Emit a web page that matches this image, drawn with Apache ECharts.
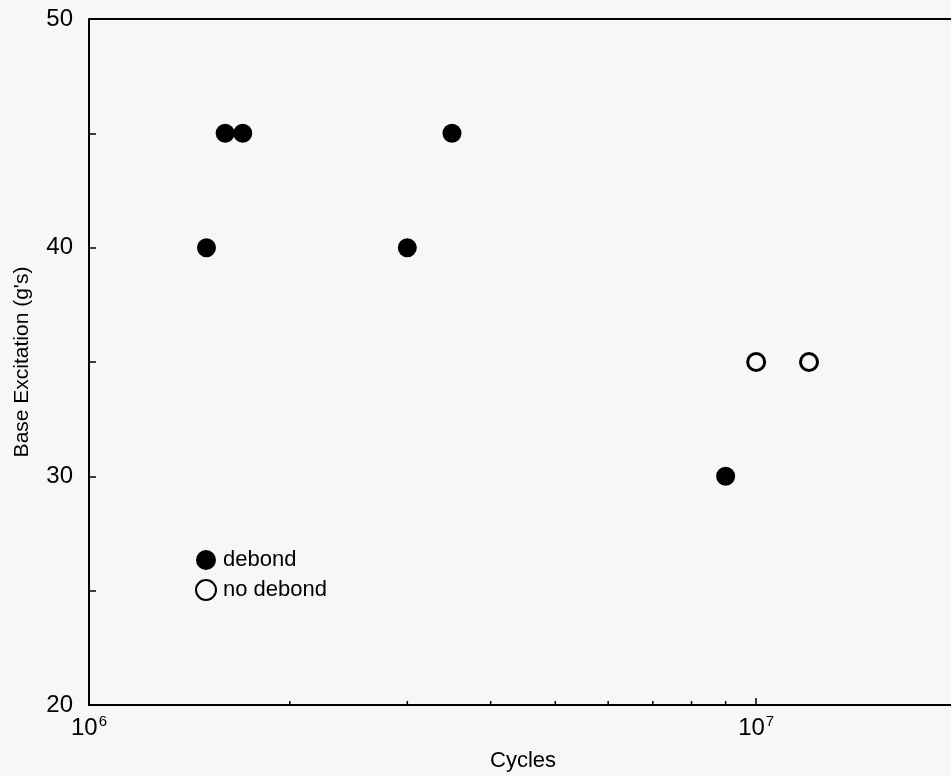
<!DOCTYPE html>
<html>
<head>
<meta charset="utf-8">
<script src="https://cdn.jsdelivr.net/npm/echarts@6/dist/echarts.min.js"></script>
<style>
html,body{margin:0;padding:0;background:#f7f7f7;}
#c{width:951px;height:776px;}
</style>
</head>
<body>
<div id="c"></div>
<script>
// Data
const debondCycles = [1.5e6, 1.6e6, 1.7e6, 3.0e6, 3.5e6, 9.0e6];
const debondG      = [40,    45,    45,    40,    45,    30];
const noDebondCycles = [1.0e7, 1.2e7];
const noDebondG      = [35,    35];
const xMinorTicks = [2e6, 3e6, 4e6, 5e6, 6e6, 7e6, 8e6, 9e6];
const yLabels = [20, 30, 40, 50];

const chart = echarts.init(document.getElementById('c'));
const font = 'Liberation Sans, Arial, Helvetica, sans-serif';

function zip(a, b) { return a.map((v, i) => [v, b[i]]); }

const option = {
  backgroundColor: '#f7f7f7',
  animation: false,
  grid: { left: 89, top: 19, width: 868, height: 686, show: false, outerBoundsMode: 'none', containLabel: false },
  xAxis: {
    type: 'log',
    logBase: 10,
    min: 1e6,
    max: 2e7,
    name: 'Cycles',
    nameLocation: 'middle',
    nameGap: 45,
    nameTextStyle: { fontFamily: font, fontSize: 22, color: '#000' },
    axisLine: { show: true, lineStyle: { color: '#000', width: 2 } },
    axisTick: { show: true, inside: true, length: 7, lineStyle: { color: '#000', width: 1.5 } },
    minorTick: { show: false },
    splitLine: { show: false },
    axisLabel: {
      margin: 9,
      formatter: function (v) {
        const e = Math.log10(v);
        if (Math.abs(e - Math.round(e)) < 1e-6 && Math.round(e) <= 7) {
          return '{b|10}{s|' + Math.round(e) + '}';
        }
        return '';
      },
      rich: {
        b: { fontFamily: font, fontSize: 24, color: '#000', verticalAlign: 'bottom', lineHeight: 26 },
        s: { fontFamily: font, fontSize: 15, color: '#000', verticalAlign: 'top', padding: [0, 0, 12, 1], lineHeight: 26 }
      }
    }
  },
  yAxis: {
    type: 'value',
    min: 20,
    max: 50,
    interval: 5,
    name: "Base Excitation (g's)",
    nameLocation: 'middle',
    nameGap: 56,
    nameTextStyle: { fontFamily: font, fontSize: 21, color: '#000' },
    axisLine: { show: true, lineStyle: { color: '#000', width: 2 } },
    axisTick: { show: true, inside: true, length: 7, lineStyle: { color: '#000', width: 1.5 } },
    splitLine: { show: false },
    axisLabel: {
      margin: 16,
      fontFamily: font,
      fontSize: 24,
      color: '#000',
      formatter: function (v) { return yLabels.indexOf(v) >= 0 ? String(v) : ''; }
    }
  },
  legend: {
    orient: 'vertical',
    left: 190,
    top: 544,
    itemWidth: 20,
    itemHeight: 20,
    itemGap: 8,
    textStyle: { fontFamily: font, fontSize: 22, color: '#000', padding: [0, 0, 0, 2] },
    data: [
      { name: 'debond', icon: 'circle' },
      { name: 'no debond', icon: 'circle' }
    ]
  },
  series: [
    {
      name: 'debond',
      type: 'scatter',
      symbol: 'circle',
      symbolSize: 19,
      itemStyle: { color: '#000', opacity: 1 },
      data: zip(debondCycles, debondG)
    },
    {
      name: 'no debond',
      type: 'scatter',
      symbol: 'circle',
      symbolSize: 17,
      itemStyle: { color: '#f7f7f7', borderColor: '#000', borderWidth: 3, opacity: 1 },
      data: zip(noDebondCycles, noDebondG)
    },
    {
      name: 'minorTicks',
      type: 'custom',
      silent: true,
      data: xMinorTicks.map(v => [v, 20]),
      renderItem: function (params, api) {
        const p = api.coord([api.value(0), api.value(1)]);
        return {
          type: 'line',
          shape: { x1: p[0], y1: p[1], x2: p[0], y2: p[1] - 4 },
          style: { stroke: '#000', lineWidth: 1.5 }
        };
      }
    },
    {
      name: 'topBorder',
      type: 'custom',
      silent: true,
      data: [[1e6, 50]],
      renderItem: function (params, api) {
        const p = api.coord([api.value(0), api.value(1)]);
        return {
          type: 'line',
          shape: { x1: p[0], y1: p[1], x2: p[0] + 900, y2: p[1] },
          style: { stroke: '#000', lineWidth: 2 }
        };
      }
    }
  ]
};
chart.setOption(option);
</script>
</body>
</html>
